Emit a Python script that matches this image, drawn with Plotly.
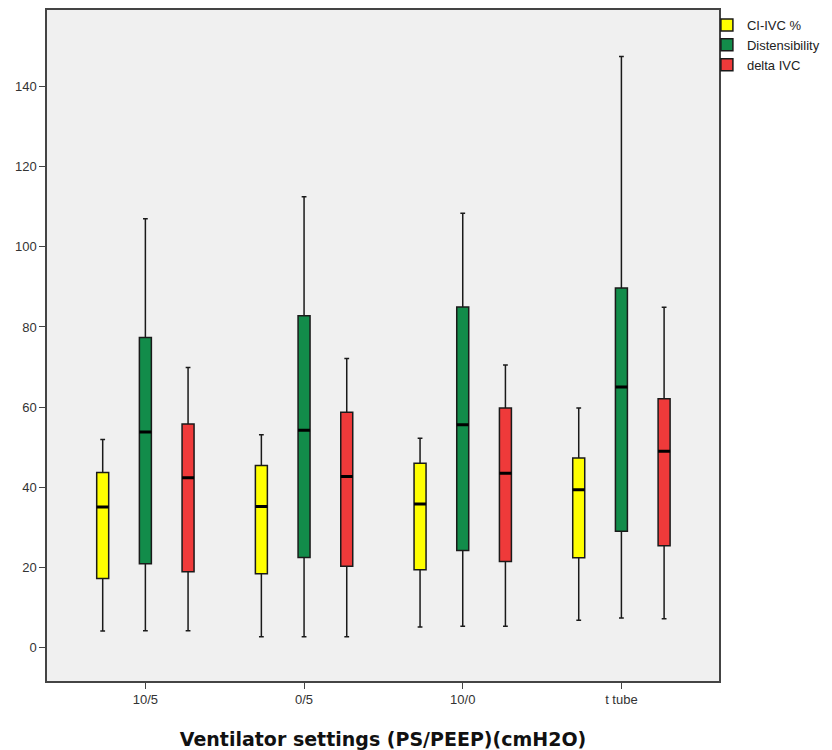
import plotly.graph_objects as go

categories = ["10/5", "0/5", "10/0", "t tube"]
series_names = ["CI-IVC %", "Distensibility", "delta IVC"]
series_colors = ["#FFFF00", "#128C4A", "#EF3A3A"]

# per-series statistics, one value per category
ci_low = [4.1, 2.7, 5.1, 6.8]
ci_q1 = [17.2, 18.4, 19.4, 22.4]
ci_med = [35.1, 35.2, 35.8, 39.4]
ci_q3 = [43.7, 45.4, 46.0, 47.3]
ci_high = [51.9, 53.1, 52.2, 59.8]

di_low = [4.2, 2.7, 5.3, 7.4]
di_q1 = [20.9, 22.5, 24.2, 29.0]
di_med = [53.8, 54.2, 55.6, 65.0]
di_q3 = [77.4, 82.8, 85.0, 89.7]
di_high = [107.0, 112.5, 108.4, 147.5]

de_low = [4.2, 2.7, 5.3, 7.2]
de_q1 = [18.9, 20.3, 21.5, 25.4]
de_med = [42.4, 42.7, 43.5, 49.0]
de_q3 = [55.8, 58.7, 59.8, 62.1]
de_high = [69.9, 72.1, 70.5, 84.9]

y_ticks = [0, 20, 40, 60, 80, 100, 120, 140]

stats = [
    (ci_low, ci_q1, ci_med, ci_q3, ci_high),
    (di_low, di_q1, di_med, di_q3, di_high),
    (de_low, de_q1, de_med, de_q3, de_high),
]

fig = go.Figure()
for i, (name, color, (lo, q1, med, q3, hi)) in enumerate(zip(series_names, series_colors, stats)):
    fig.add_trace(go.Box(
        name=name, x=categories, q1=q1, median=med, q3=q3,
        lowerfence=lo, upperfence=hi,
        fillcolor=color, line=dict(color="#1a1a1a", width=1.5),
        whiskerwidth=0.4, offsetgroup=str(i), legendgroup=str(i),
        boxpoints=False,
    ))
    fig.add_trace(go.Box(
        name=name, x=categories, q1=med, median=med, q3=med,
        lowerfence=med, upperfence=med,
        fillcolor="#000000", line=dict(color="#000000", width=3),
        whiskerwidth=0, offsetgroup=str(i), legendgroup=str(i),
        showlegend=False, hoverinfo="skip", boxpoints=False,
    ))

axis_common = dict(
    showline=True, mirror=True, linecolor="#444444", linewidth=1.5,
    ticks="outside", ticklen=6, tickcolor="#444444", tickwidth=1,
    showgrid=False, zeroline=False, automargin=False,
    tickfont=dict(family="Liberation Sans, Arial", size=13, color="#333333"),
)

# the page body adds an 8px margin, so the figure is sized to fill the window
fig.update_layout(
    width=824, height=742,
    margin=dict(l=39, r=113, t=2, b=69, autoexpand=False),
    paper_bgcolor="white", plot_bgcolor="#F0F0F0",
    boxmode="group", boxgap=0.193, boxgroupgap=0.719,
    xaxis=dict(type="category", categoryorder="array", categoryarray=categories,
               range=[-0.62, 3.615],
               title=dict(text="<b>Ventilator settings (PS/PEEP)(cmH2O)</b>",
                          font=dict(family="DejaVu Sans", size=19, color="#111111"),
                          standoff=26),
               **axis_common),
    yaxis=dict(range=[-8.35, 159.1], tickmode="array", tickvals=y_ticks,
               **axis_common),
    legend=dict(x=0.982, xanchor="left", y=1.0, yanchor="top",
                font=dict(family="Liberation Sans, Arial", size=13, color="#222222"),
                itemwidth=30, tracegroupgap=0, bgcolor="rgba(0,0,0,0)"),
    showlegend=True,
)

fig.write_html("out.html")
